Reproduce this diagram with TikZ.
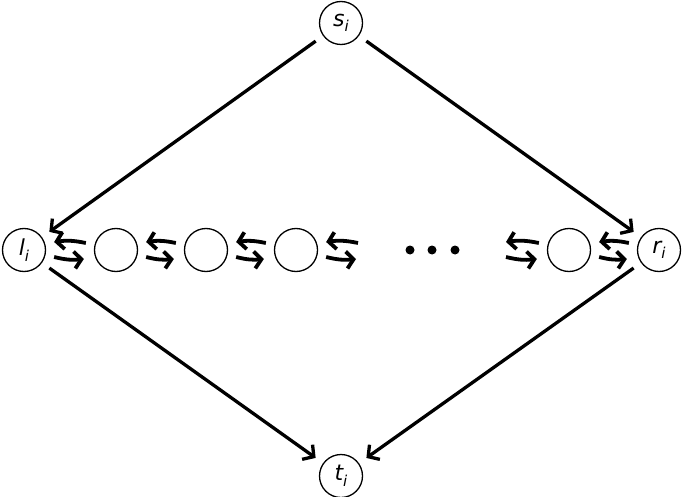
\documentclass[tikz,border=0pt]{standalone}
\usepackage{fontspec}
\newfontfamily\djv{DejaVu Sans}
\usetikzlibrary{arrows.meta}
\newcommand{\lbl}[2]{{\djv\fontsize{22}{22}\selectfont\itshape #1\raisebox{-0.25em}{\fontsize{15}{15}\selectfont #2}}}
\begin{document}
\begin{tikzpicture}[x=1pt,y=-1pt,
  vtx/.style={circle,draw,line width=1.3pt,minimum size=43pt,inner sep=0pt},
  dotn/.style={circle,fill,minimum size=9pt,inner sep=0pt},
  darr/.style={line width=3.3pt,-{Straight Barb[length=8pt,width=18pt]},shorten <=9pt,shorten >=9pt},
  harr/.style={line width=3.8pt,-{Straight Barb[length=7pt,width=17pt]}}]
\useasboundingbox (0,0) rectangle (682,497);
\node[vtx] (s) at (341,23) {\lbl{s}{i}};
\node[vtx] (l) at (24,250) {\lbl{l}{i}};
\node[vtx] (r) at (659,250) {\lbl{r}{i}};
\node[vtx] (t) at (341,476) {\lbl{t}{i}};
\node[vtx] (c1) at (116,250) {};
\node[vtx] (c2) at (206,250) {};
\node[vtx] (c3) at (296,250) {};
\node[vtx] (c4) at (569,250) {};
\coordinate (v1) at (366,250);
\coordinate (v2) at (498,250);
\node[dotn] (d1) at (410,250) {};
\node[dotn] (d2) at (432,250) {};
\node[dotn] (d3) at (455,250) {};
\draw[darr] (s) -- (l);
\draw[darr] (s) -- (r);
\draw[darr] (l) -- (t);
\draw[darr] (r) -- (t);
\foreach \a/\b in {l.east/c1.west, c1.east/c2.west, c2.east/c3.west, c3.east/v1, v2/c4.west, c4.east/r.west}{
  \draw[harr] ([shift={(-8,-7)}]\b) to[bend right=10] ([shift={(8,-8)}]\a);
  \draw[harr] ([shift={(8,7)}]\a) to[bend right=10] ([shift={(-10,9)}]\b);
}
\end{tikzpicture}
\end{document}
